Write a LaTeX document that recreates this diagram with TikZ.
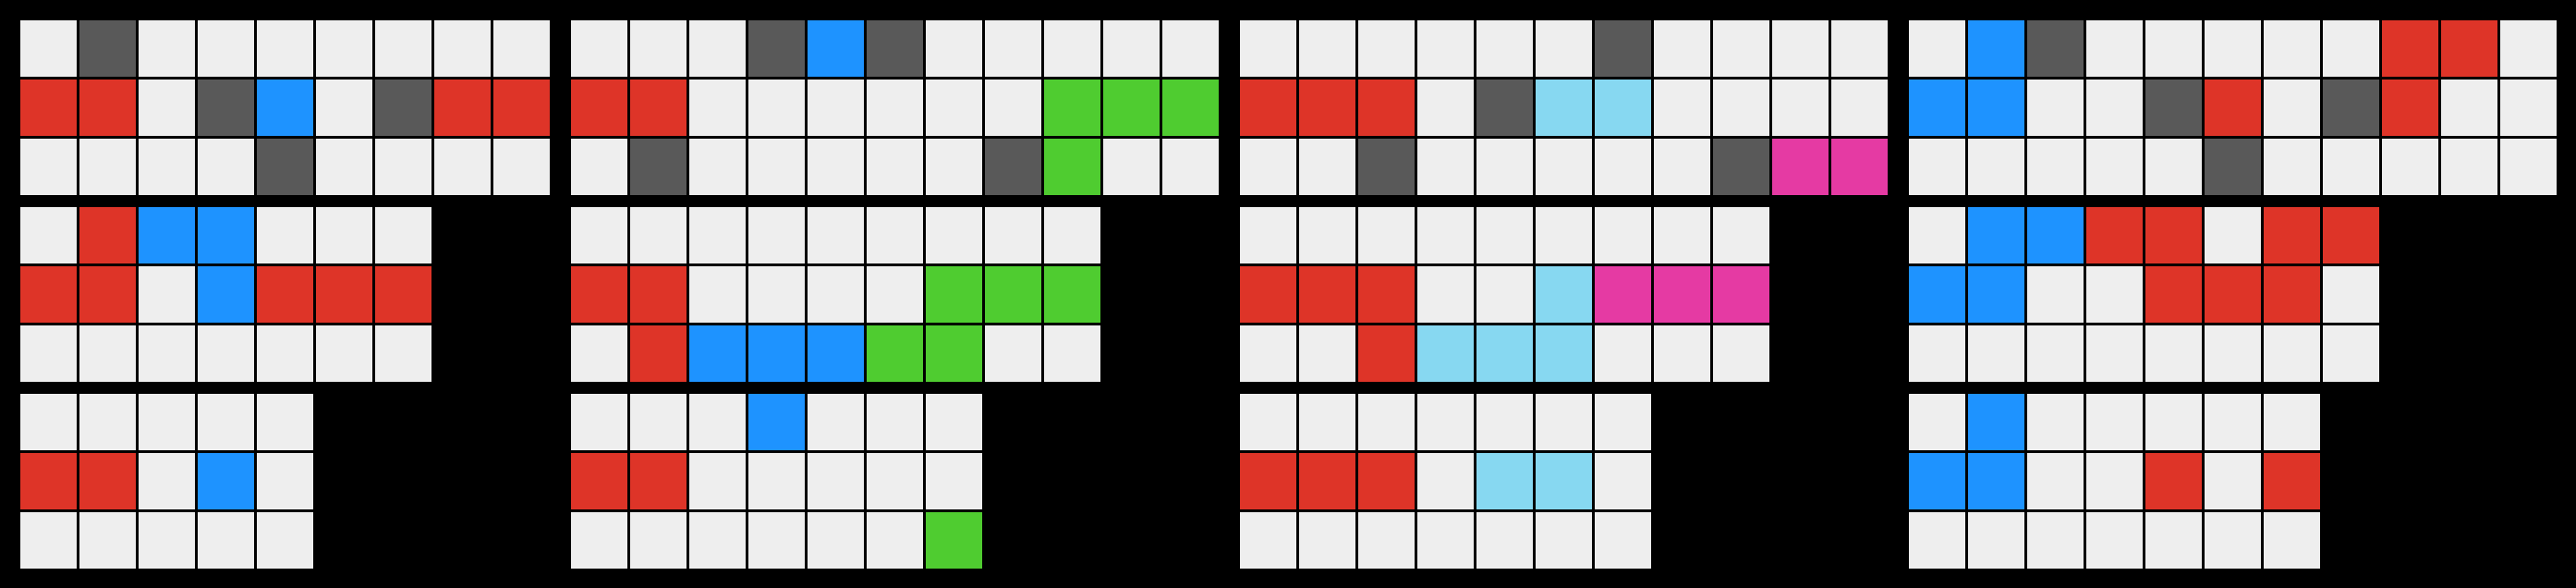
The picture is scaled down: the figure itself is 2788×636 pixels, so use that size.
\documentclass[tikz,border=0pt]{standalone}
\definecolor{cW}{HTML}{EEEEEE}
\definecolor{cK}{HTML}{595959}
\definecolor{cR}{HTML}{DE3428}
\definecolor{cB}{HTML}{1E93FF}
\definecolor{cG}{HTML}{4FCC30}
\definecolor{cC}{HTML}{87D8F1}
\definecolor{cM}{HTML}{E53AA3}
\tikzset{cell/.style={draw=black, line width=3pt}}
\newcommand{\arcgrid}[3]{%
  \foreach \row [count=\j from 0] in {#3}{
    \foreach \c [count=\i from 0] in \row {
      \path[cell, fill=c\c] (#1+64*\i, #2+64*\j) rectangle ++(64,64);
    }
  }%
}
\begin{document}
\begin{tikzpicture}[x=1pt,y=-1pt]
\fill[black] (0,0) rectangle (2788,636);
\useasboundingbox (0,0) rectangle (2788,636);
% Panel 1
\arcgrid{20.5}{20.5}{{W,K,W,W,W,W,W,W,W},{R,R,W,K,B,W,K,R,R},{W,W,W,W,K,W,W,W,W}}
\arcgrid{20.5}{222.5}{{W,R,B,B,W,W,W},{R,R,W,B,R,R,R},{W,W,W,W,W,W,W}}
\arcgrid{20.5}{424.5}{{W,W,W,W,W},{R,R,W,B,W},{W,W,W,W,W}}
% Panel 2
\arcgrid{616.5}{20.5}{{W,W,W,K,B,K,W,W,W,W,W},{R,R,W,W,W,W,W,W,G,G,G},{W,K,W,W,W,W,W,K,G,W,W}}
\arcgrid{616.5}{222.5}{{W,W,W,W,W,W,W,W,W},{R,R,W,W,W,W,G,G,G},{W,R,B,B,B,G,G,W,W}}
\arcgrid{616.5}{424.5}{{W,W,W,B,W,W,W},{R,R,W,W,W,W,W},{W,W,W,W,W,W,G}}
% Panel 3
\arcgrid{1340.5}{20.5}{{W,W,W,W,W,W,K,W,W,W,W},{R,R,R,W,K,C,C,W,W,W,W},{W,W,K,W,W,W,W,W,K,M,M}}
\arcgrid{1340.5}{222.5}{{W,W,W,W,W,W,W,W,W},{R,R,R,W,W,C,M,M,M},{W,W,R,C,C,C,W,W,W}}
\arcgrid{1340.5}{424.5}{{W,W,W,W,W,W,W},{R,R,R,W,C,C,W},{W,W,W,W,W,W,W}}
% Panel 4
\arcgrid{2064.5}{20.5}{{W,B,K,W,W,W,W,W,R,R,W},{B,B,W,W,K,R,W,K,R,W,W},{W,W,W,W,W,K,W,W,W,W,W}}
\arcgrid{2064.5}{222.5}{{W,B,B,R,R,W,R,R},{B,B,W,W,R,R,R,W},{W,W,W,W,W,W,W,W}}
\arcgrid{2064.5}{424.5}{{W,B,W,W,W,W,W},{B,B,W,W,R,W,R},{W,W,W,W,W,W,W}}
\end{tikzpicture}
\end{document}
